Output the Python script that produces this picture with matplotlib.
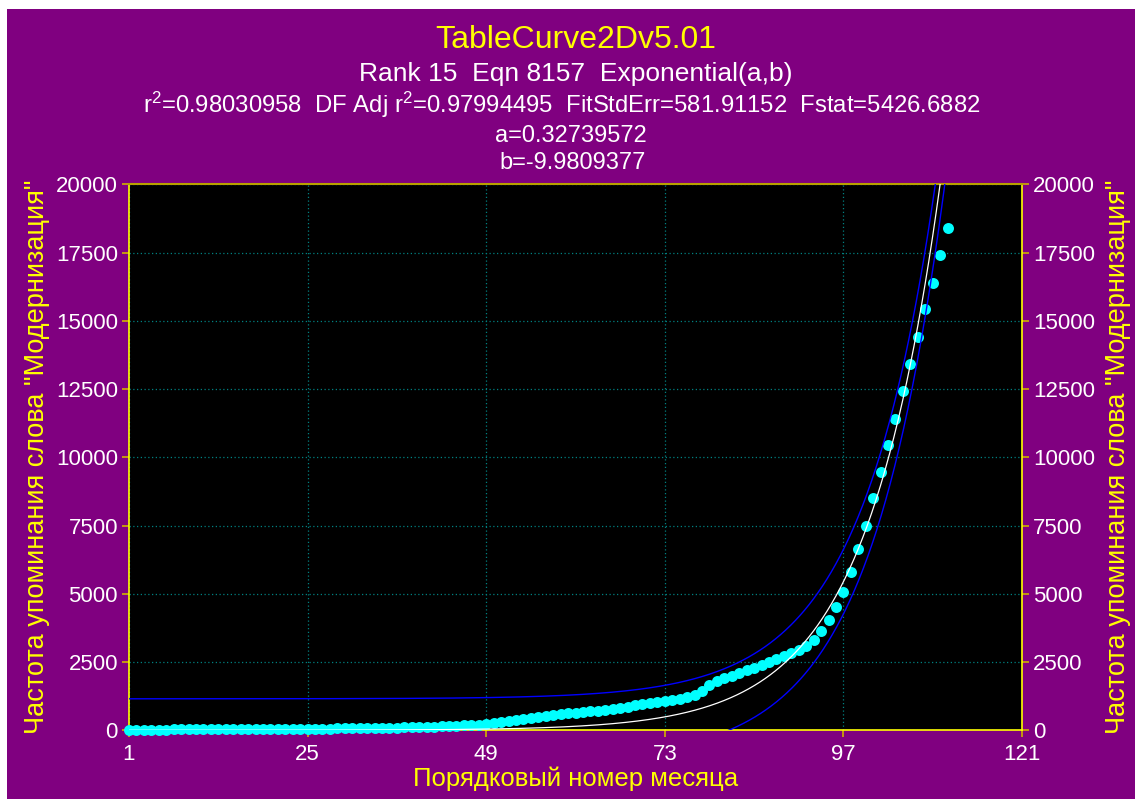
import numpy as np
import matplotlib
matplotlib.use('Agg')
import matplotlib.pyplot as plt
from matplotlib.patches import Rectangle

plt.rcParams['font.family'] = ['Liberation Sans', 'DejaVu Sans']
plt.rcParams['mathtext.fontset'] = 'custom'
plt.rcParams['mathtext.rm'] = 'Liberation Sans'
plt.rcParams['mathtext.it'] = 'Liberation Sans:italic'
plt.rcParams['mathtext.bf'] = 'Liberation Sans:bold'

# month number 1..111
months = list(range(1, 112))
# mentions of the word
freq = [20, 20, 20, 25, 25, 25, 30, 30, 30, 30,
        30, 35, 35, 35, 35, 40, 40, 40, 40, 45,
        45, 45, 50, 50, 50, 55, 55, 60,
        80, 80, 85, 85, 90, 90, 95, 100, 100, 105, 110, 115,
        120, 130, 140, 150, 165, 180, 195, 210,
        225, 260, 300, 340, 380, 420, 460,
        490, 520, 550, 590, 620, 650, 680, 700,
        720, 750, 790, 830, 870, 910, 950, 990, 1030,
        1070, 1110, 1160, 1220, 1300, 1450, 1650,
        1800, 1900, 2000, 2100, 2200, 2300, 2400, 2500, 2620,
        2740, 2850, 2950, 3080, 3300,
        3637, 4040, 4505, 5077, 5810, 6630, 7484, 8498, 9473,
        10450, 11420, 12440, 13418, 14395, 15420, 16395, 17420, 18410]

# fitted parameters shown in the header
a_par = 0.32739572
b_par = -9.9809377
fit_std_err = 581.91152
t_95 = 1.982

xticks = [1, 25, 49, 73, 97, 121]
yticks = [0, 2500, 5000, 7500, 10000, 12500, 15000, 17500, 20000]

title = 'TableCurve2Dv5.01'
line2 = 'Rank 15  Eqn 8157  Exponential(a,b)'
line3 = r'r$^2$=0.98030958  DF Adj r$^2$=0.97994495  FitStdErr=581.91152  Fstat=5426.6882'
line4 = 'a=0.32739572'
line5 = 'b=-9.9809377'
xlab = 'Порядковый номер месяца'
ylab = 'Частота упоминания слова "Модернизация"'

W, H = 1135, 799
purple = '#800080'
yellow = '#FFFF00'

fig = plt.figure(figsize=(W / 100, H / 100), dpi=100, facecolor='white')
fig.patches.append(Rectangle((7 / W, 0), 1 - 7 / W, 1 - 9 / H, transform=fig.transFigure,
                             facecolor=purple, edgecolor='none', zorder=-10))

ax = fig.add_axes([129 / W, 1 - 730.3 / H, 893 / W, 545.9 / H])
ax.set_facecolor('black')

# model curve and 95% prediction band
x = np.array(months, dtype=float)
e = np.exp(-x / b_par)
J = np.column_stack([e, a_par * e * x / b_par ** 2])
cov = np.linalg.inv(J.T @ J)
xg = np.linspace(1, 121, 1200)
eg = np.exp(-xg / b_par)
G = np.column_stack([eg, a_par * eg * xg / b_par ** 2])
lev = np.einsum('ij,jk,ik->i', G, cov, G)
yfit = a_par * eg
hw = t_95 * fit_std_err * np.sqrt(1 + lev)

ax.plot(months, freq, 'o', color='#00FFFF', ms=7.9, mec='none', clip_on=False, zorder=3)
ax.plot(xg, yfit, color='white', lw=0.9, zorder=4)
ax.plot(xg, yfit + hw, color='#0000FF', lw=1.0, zorder=4)
ax.plot(xg, yfit - hw, color='#0000FF', lw=1.0, zorder=4)

ax.set_xlim(1, 121)
ax.set_ylim(0, 20000)
ax.set_xticks(xticks)
ax.set_yticks(yticks)
ax.set_xticklabels([str(v) for v in xticks])
ax.set_yticklabels([str(v) for v in yticks])
ax.grid(True, color='#008080', linestyle=(0, (1, 2)), lw=0.9)
ax.set_axisbelow(True)

for s in ['left', 'bottom', 'right']:
    ax.spines[s].set_color(yellow)
    ax.spines[s].set_linewidth(1.2)
ax.spines['top'].set_color('#B8A000')
ax.spines['top'].set_linewidth(1.5)

ax.tick_params(axis='both', direction='out', length=5, width=1.2, color='#D0B000',
               labelcolor='white', labelsize=16)
ax.tick_params(axis='y', right=True, labelright=True, pad=3)
ax.tick_params(axis='x', pad=5)

cx = (129 + 1022) / 2 / W
fig.text(cx, 1 - 48 / H, title, color=yellow, fontsize=23, ha='center', va='baseline')
fig.text(cx, 1 - 81.5 / H, line2, color='white', fontsize=19, ha='center', va='baseline')
fig.text(562 / W, 1 - 113 / H, line3, color='white', fontsize=17.2, ha='center', va='baseline')
fig.text(571 / W, 1 - 141.5 / H, line4, color='white', fontsize=17, ha='center', va='baseline')
fig.text(573 / W, 1 - 169 / H, line5, color='white', fontsize=17, ha='center', va='baseline')

fig.text(cx, 1 - 786 / H, xlab, color=yellow, fontsize=18.5, ha='center', va='baseline')
fig.text(37 / W, 1 - 457 / H, ylab, color=yellow, fontsize=19.5, rotation=90,
         ha='center', va='center')
fig.text(1118 / W, 1 - 457 / H, ylab, color=yellow, fontsize=19.5, rotation=90,
         ha='center', va='center')

fig.savefig('out.png', dpi=100, facecolor=fig.get_facecolor())
